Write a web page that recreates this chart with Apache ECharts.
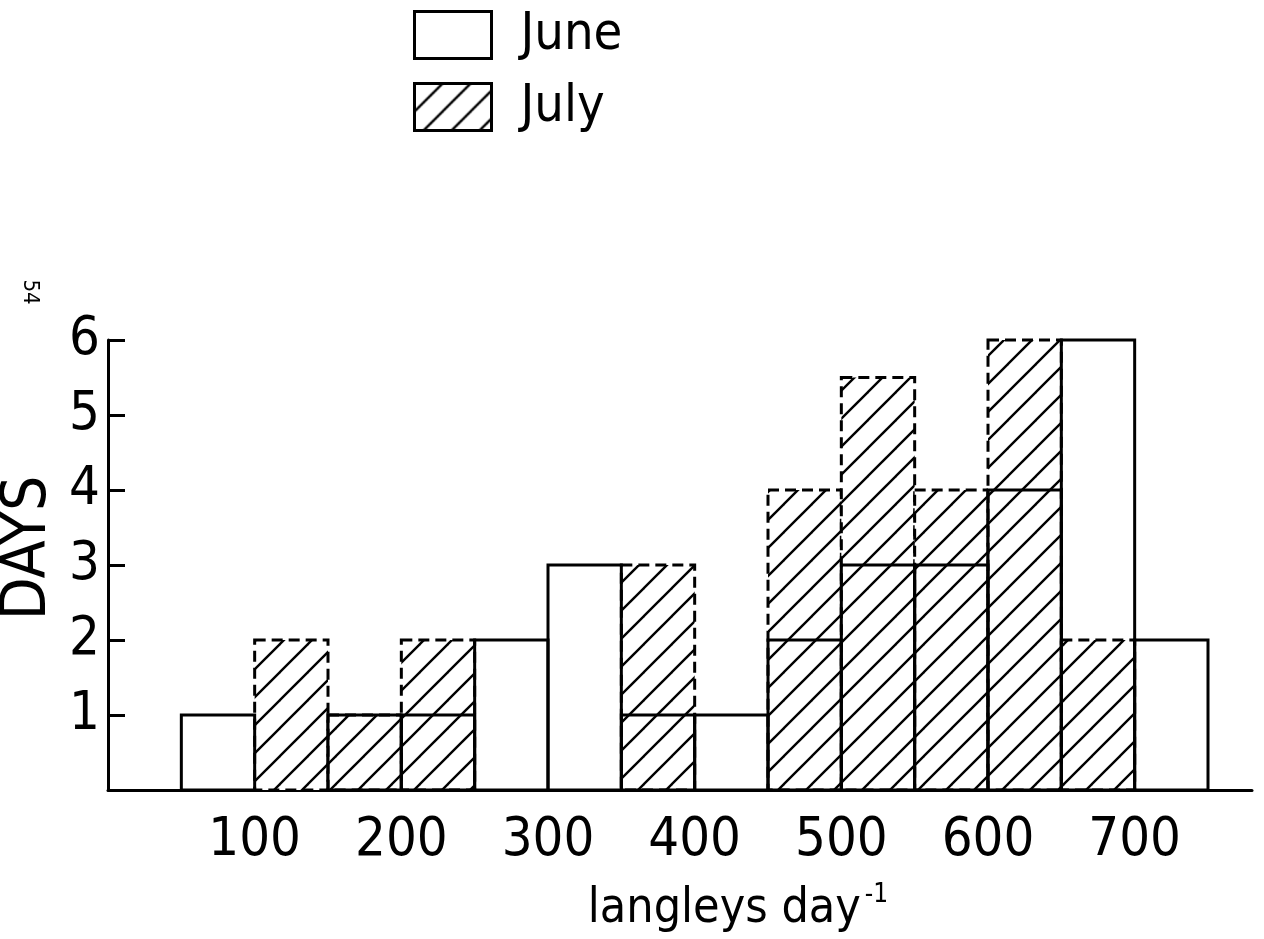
<!DOCTYPE html>
<html>
<head>
<meta charset="utf-8">
<script src="https://cdn.jsdelivr.net/npm/echarts@6/dist/echarts.min.js"></script>
<style>
  html, body { margin: 0; padding: 0; background: #fff; }
  #chart { width: 1264px; height: 939px; }
</style>
</head>
<body>
<div id="chart"></div>
<script>
// ---- data ----
const binStarts = [50, 100, 150, 200, 250, 300, 350, 400, 450, 500, 550, 600, 650, 700];
const binWidth = 50;
const juneDays = [1, 0, 1, 1, 2, 3, 1, 1, 2, 3, 3, 4, 6, 2];
const julyDays = [0, 2, 1, 2, 0, 0, 3, 0, 4, 5.5, 4, 6, 2, 0];
const xTickValues = [100, 200, 300, 400, 500, 600, 700];
const yTickValues = [1, 2, 3, 4, 5, 6];
const seriesNames = ['June', 'July'];

const FONT = "'Liberation Sans Narrow', 'DejaVu Sans Condensed', 'Roboto Condensed', 'Liberation Sans', sans-serif";

// hatch pattern "/"
function makeHatch() {
  const s = 28;
  const c = document.createElement('canvas');
  c.width = s; c.height = s;
  const ctx = c.getContext('2d');
  ctx.fillStyle = '#fff';
  ctx.fillRect(0, 0, s, s);
  ctx.strokeStyle = '#000';
  ctx.lineWidth = 2.4;
  [-s, 0, s].forEach(k => {
    ctx.beginPath();
    ctx.moveTo(k - 2, s + 2);
    ctx.lineTo(k + s + 2, -2);
    ctx.stroke();
  });
  return c;
}
const hatch = { image: makeHatch(), repeat: 'repeat' };

const juneData = binStarts.map((s, i) => [s, s + binWidth, juneDays[i]]);
const julyData = binStarts.map((s, i) => [s, s + binWidth, julyDays[i]]);

function makeRender(kind) {
  return function (params, api) {
    const v = api.value(2);
    if (!v) return null;
    const p0 = api.coord([api.value(0), 0]);
    const p1 = api.coord([api.value(1), v]);
    const style = kind === 'june'
      ? { fill: 'none', stroke: '#000', lineWidth: 3 }
      : { fill: hatch, stroke: '#000', lineWidth: 3, lineDash: [11, 6] };
    return {
      type: 'rect',
      shape: { x: p0[0], y: p1[1], width: p1[0] - p0[0], height: p0[1] - p1[1] },
      style: style
    };
  };
}

const chart = echarts.init(document.getElementById('chart'), null, { renderer: 'canvas' });
chart.setOption({
  animation: false,
  backgroundColor: '#fff',
  grid: { left: 108, right: 12, top: 340, bottom: 149, containLabel: false },
  legend: {
    orient: 'vertical',
    left: 408,
    top: 4,
    itemWidth: 77,
    itemHeight: 47,
    itemGap: 20,
    textStyle: { fontFamily: FONT, fontSize: 52, color: '#000', padding: [0, 0, 0, 24] },
    data: [
      { name: seriesNames[0], icon: 'rect', itemStyle: { color: '#fff', borderColor: '#000', borderWidth: 3 } },
      { name: seriesNames[1], icon: 'rect', itemStyle: { color: hatch, borderColor: '#000', borderWidth: 3 } }
    ]
  },
  xAxis: {
    type: 'value',
    min: 0,
    max: 780,
    interval: 100,
    axisLine: { show: true, lineStyle: { color: '#000', width: 3 } },
    axisTick: { show: false },
    splitLine: { show: false },
    axisLabel: {
      margin: 24,
      fontFamily: FONT,
      fontSize: 54,
      color: '#000',
      formatter: v => (xTickValues.indexOf(v) >= 0 ? String(v) : '')
    },
    name: 'langleys day{sup|-1}',
    nameLocation: 'middle',
    nameGap: 92,
    nameTextStyle: {
      fontFamily: FONT,
      fontSize: 48,
      color: '#000',
      padding: [0, 0, 0, 116],
      rich: { sup: { fontFamily: FONT, fontSize: 26, color: '#000', verticalAlign: 'top', padding: [0, 0, 30, 4] } }
    }
  },
  yAxis: {
    type: 'value',
    min: 0,
    max: 6,
    interval: 1,
    axisLine: { show: true, lineStyle: { color: '#000', width: 3 } },
    axisTick: { show: true, inside: true, length: 17, lineStyle: { color: '#000', width: 3 } },
    splitLine: { show: false },
    axisLabel: {
      margin: 8,
      fontFamily: FONT,
      fontSize: 54,
      color: '#000',
      formatter: v => (yTickValues.indexOf(v) >= 0 ? String(v) : '')
    }
  },
  graphic: [
    {
      type: 'text',
      x: 29, y: 548,
      rotation: Math.PI / 2,
      style: { text: 'DAYS', fontFamily: FONT, fontSize: 62, fill: '#000', align: 'center', verticalAlign: 'middle' }
    },
    {
      type: 'text',
      x: 30, y: 292,
      rotation: -Math.PI / 2,
      style: { text: '54', fontFamily: FONT, fontSize: 22, fill: '#000', align: 'center', verticalAlign: 'middle' }
    }
  ],
  series: [
    {
      name: seriesNames[1],
      type: 'custom',
      renderItem: makeRender('july'),
      encode: { x: [0, 1], y: 2 },
      itemStyle: { color: hatch, borderColor: '#000' },
      data: julyData,
      z: 2
    },
    {
      name: seriesNames[0],
      type: 'custom',
      renderItem: makeRender('june'),
      encode: { x: [0, 1], y: 2 },
      itemStyle: { color: '#fff', borderColor: '#000' },
      data: juneData,
      z: 3
    }
  ]
});
</script>
</body>
</html>
